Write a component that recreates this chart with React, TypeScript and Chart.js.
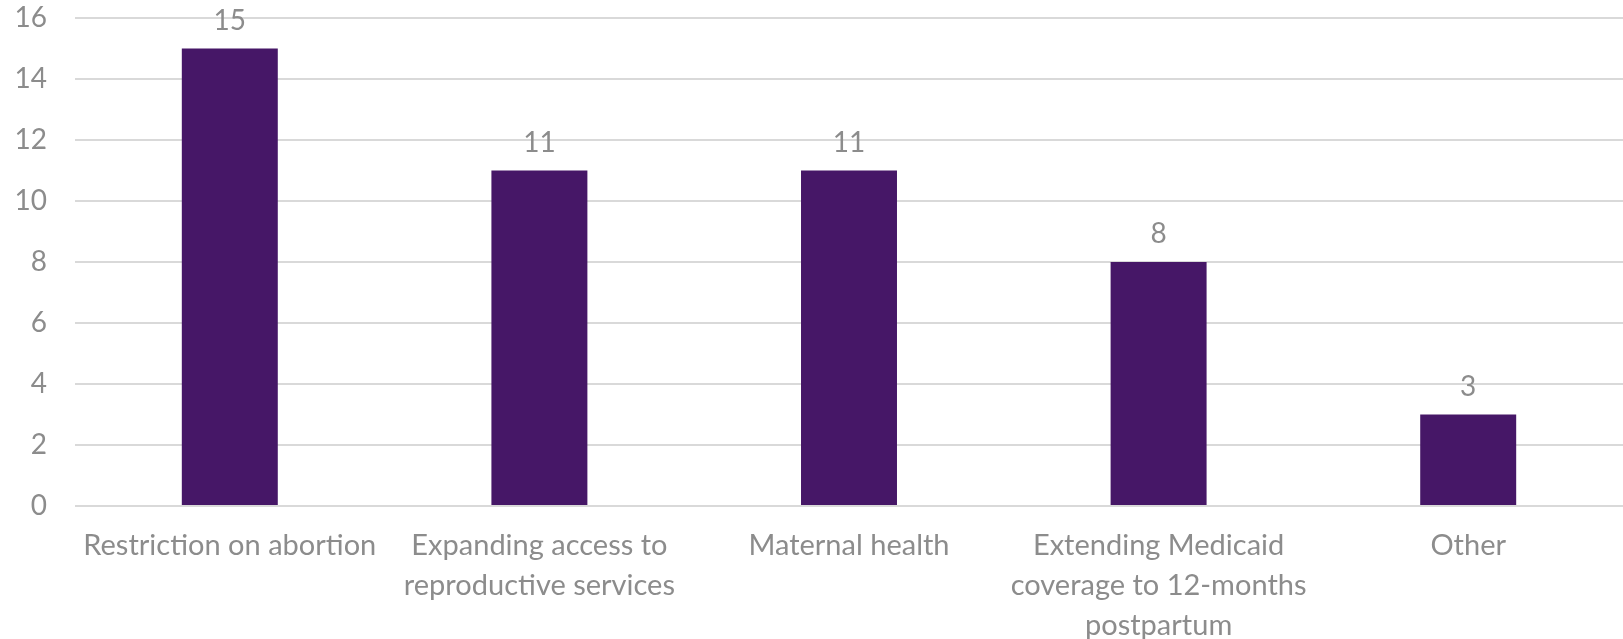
import React, { useEffect, useRef } from "react";
import { Chart, registerables } from "chart.js";

Chart.register(...registerables);

const categories: (string | string[])[] = [
  "Restriction on abortion",
  ["Expanding access to", "reproductive services"],
  "Maternal health",
  ["Extending Medicaid", "coverage to 12-months", "postpartum"],
  "Other",
];
const values: number[] = [15, 11, 11, 8, 3];
const yTicks: number[] = [0, 2, 4, 6, 8, 10, 12, 14, 16];

const FONT = "Lato, 'Open Sans', sans-serif";
const GRAY = "#8c8c8c";

const valueLabels = {
  id: "valueLabels",
  afterDatasetsDraw(chart: any) {
    const ctx = chart.ctx;
    ctx.save();
    ctx.font = `28px ${FONT}`;
    ctx.fillStyle = GRAY;
    ctx.textAlign = "center";
    ctx.textBaseline = "alphabetic";
    chart.getDatasetMeta(0).data.forEach((bar: any, i: number) => {
      ctx.fillText(String(values[i]), bar.x, bar.y - 19);
    });
    ctx.restore();
  },
};

export default function App() {
  const ref = useRef<HTMLCanvasElement>(null);
  useEffect(() => {
    document.body.style.margin = "0";
    const chart = new Chart(ref.current!, {
      type: "bar",
      data: {
        labels: categories,
        datasets: [
          {
            data: values,
            backgroundColor: "#461767",
            categoryPercentage: 1,
            barPercentage: 0.31,
          },
        ],
      },
      options: {
        animation: false,
        responsive: false,
        layout: { padding: { left: 0, top: 18, right: 0, bottom: 0 } },
        plugins: { legend: { display: false }, tooltip: { enabled: false } },
        scales: {
          x: {
            grid: { display: false },
            border: { display: false },
            afterFit: (scale: any) => {
              scale.paddingLeft = 0;
              scale.paddingRight = 0;
              scale.height = 133;
            },
            ticks: {
              color: GRAY,
              font: { family: FONT, size: 29, lineHeight: 1.38 },
              maxRotation: 0,
              autoSkip: false,
              padding: 12,
            },
          },
          y: {
            min: 0,
            max: 16,
            afterBuildTicks: (axis: any) => {
              axis.ticks = yTicks.map((v) => ({ value: v }));
            },
            afterFit: (scale: any) => {
              scale.paddingTop = 0;
              scale.paddingBottom = 0;
              scale.width = 75;
            },
            grid: { color: "#d9d9d9", lineWidth: 2, drawTicks: false },
            border: { display: false },
            ticks: {
              color: GRAY,
              font: { family: FONT, size: 28 },
              padding: 28,
            },
          },
        },
      },
      plugins: [valueLabels],
    });
    return () => chart.destroy();
  }, []);
  return <canvas ref={ref} width={1623} height={639} style={{ display: "block" }} />;
}
